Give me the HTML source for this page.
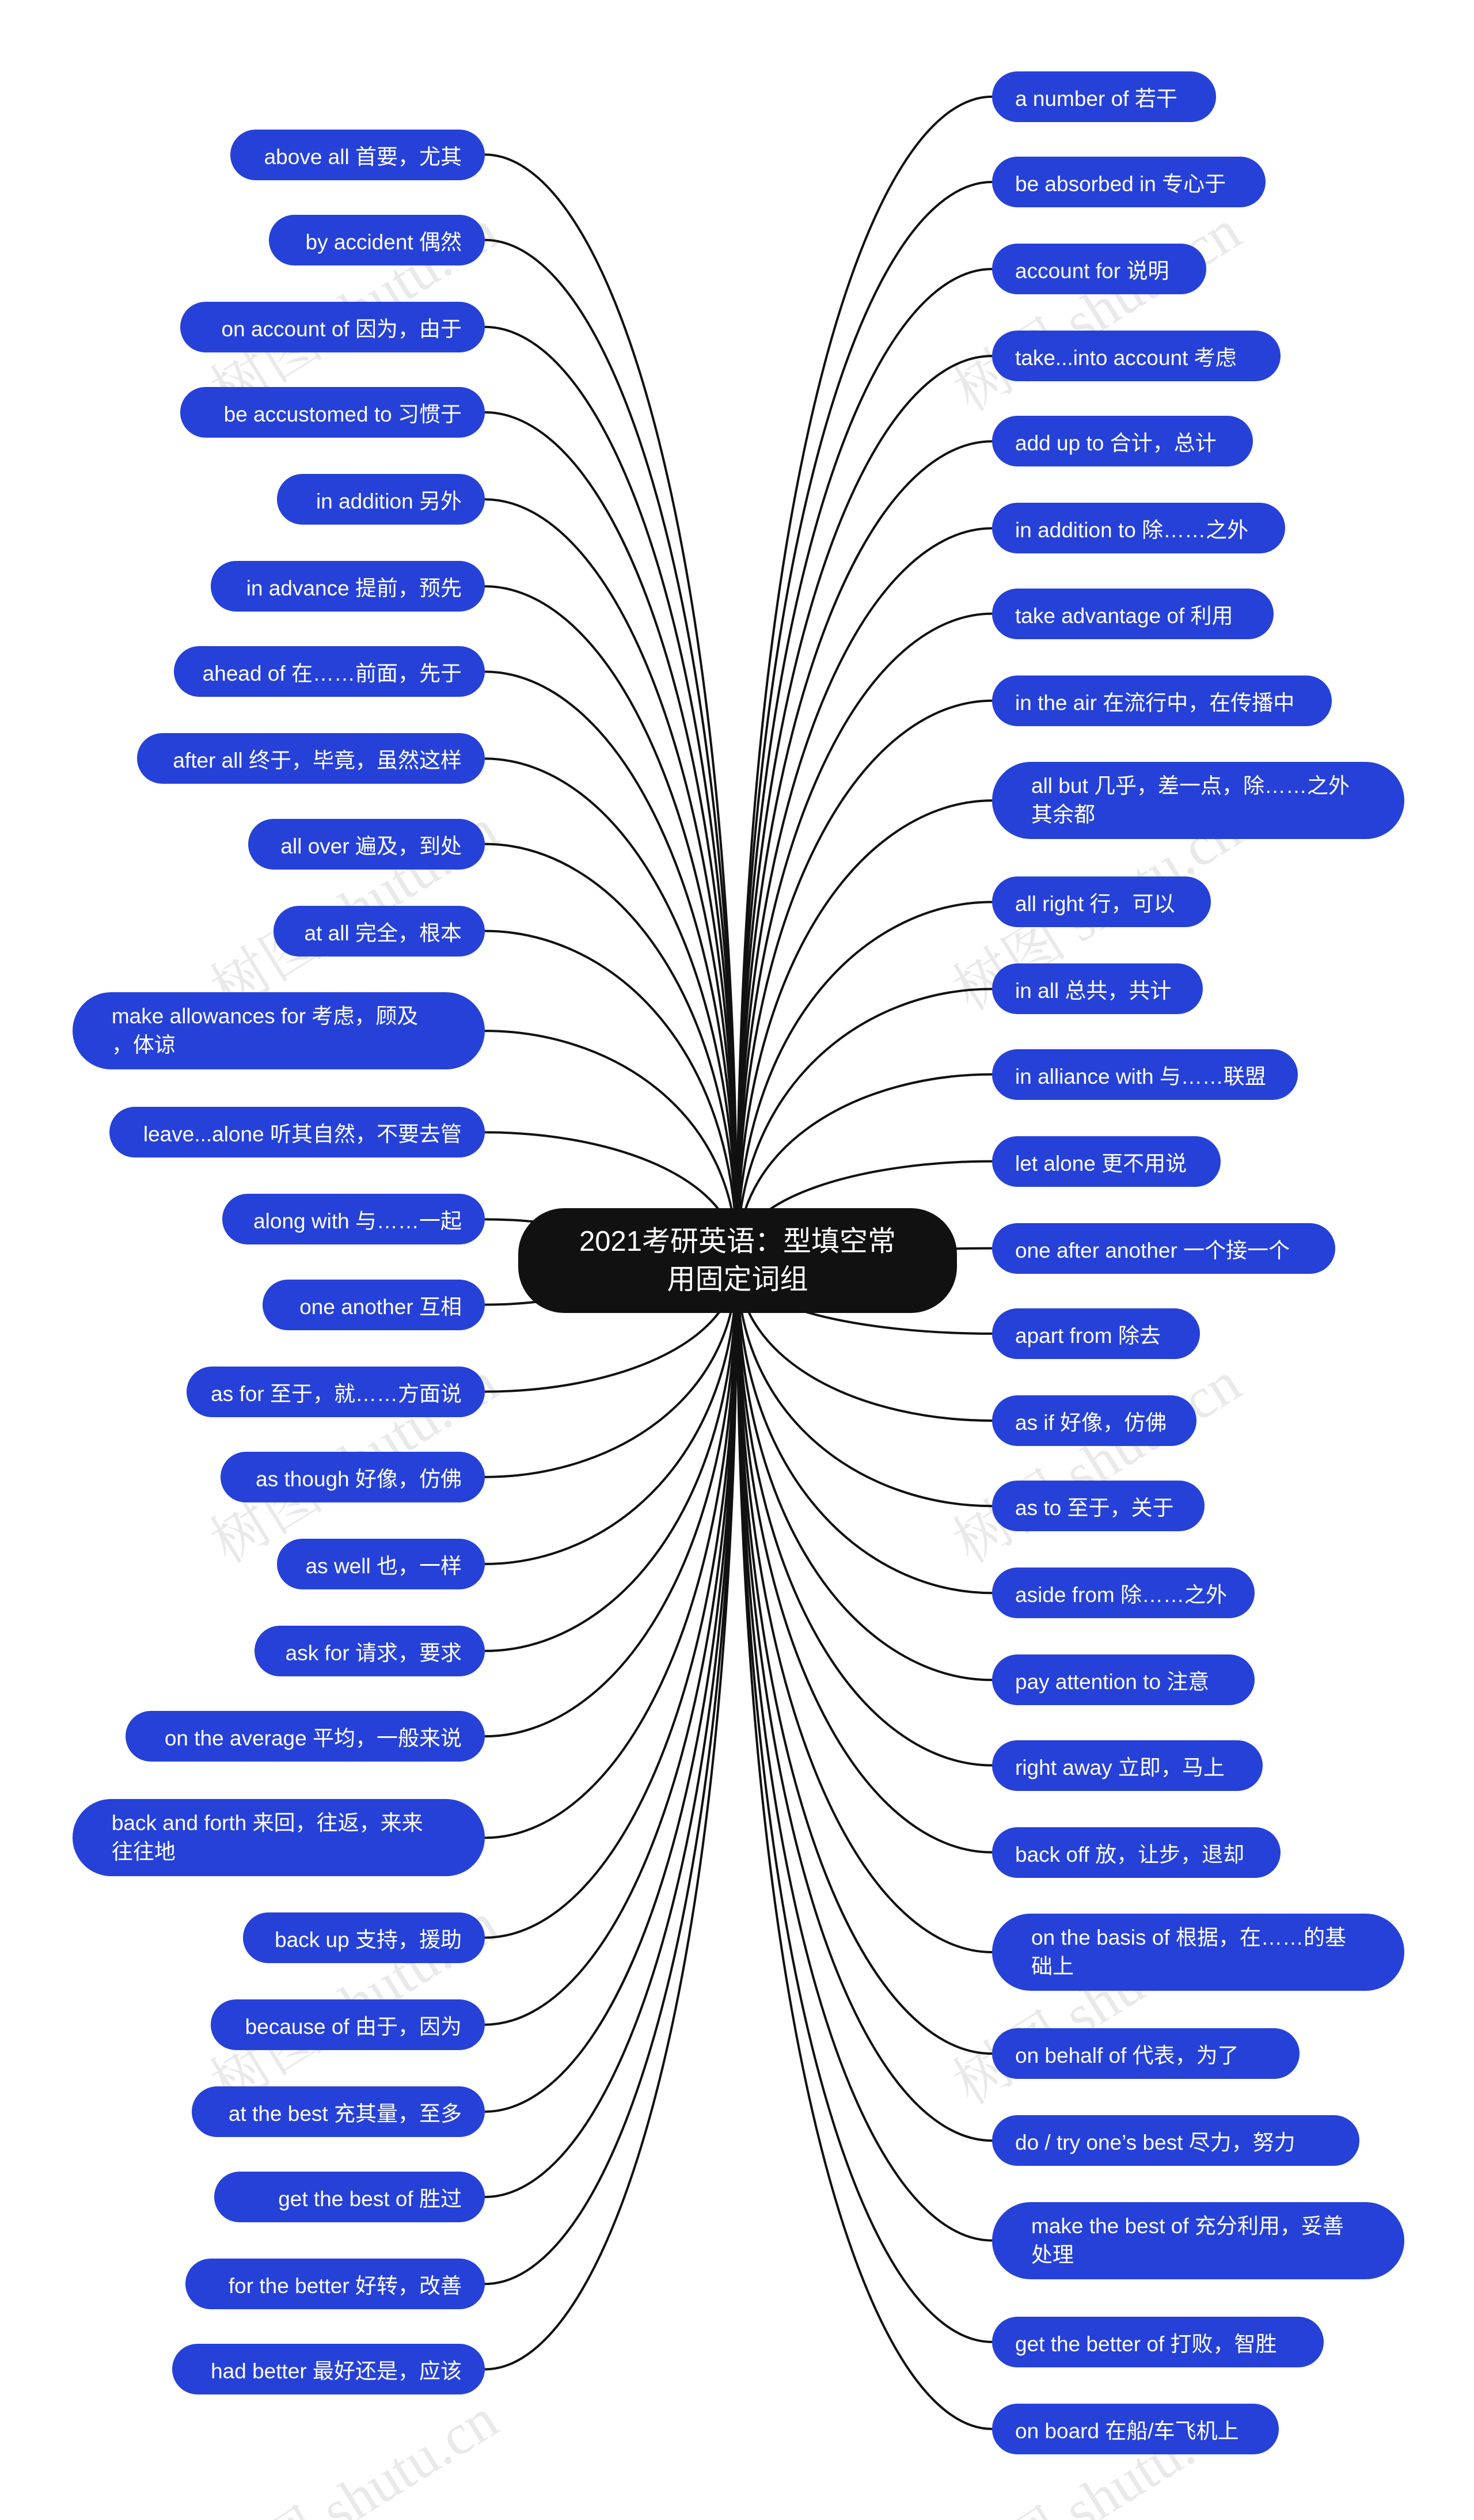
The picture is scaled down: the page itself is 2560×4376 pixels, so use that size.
<!DOCTYPE html>
<html><head><meta charset="utf-8">
<style>
html,body{margin:0;padding:0;background:#fff;}
#root{position:relative;width:2560px;height:4376px;overflow:hidden;background:#fff;}
.n{position:absolute;background:#2641d8;color:#fff;border-radius:46px;box-sizing:border-box;font-family:"Liberation Sans","Noto Sans CJK SC",sans-serif;font-size:37px;white-space:nowrap;display:flex;align-items:center;}
.nl{justify-content:flex-end;padding-right:40px;}
.nr{justify-content:flex-start;padding-left:40px;}
.n2{justify-content:flex-start;padding-left:68px;padding-right:0;white-space:normal;line-height:50px;border-radius:67px;}
.c{position:absolute;left:900px;top:2098px;width:762px;height:182px;background:#111;border-radius:80px;color:#fff;font-family:"Liberation Sans","Noto Sans CJK SC",sans-serif;font-size:49px;line-height:66px;text-align:center;display:flex;align-items:center;justify-content:center;}
.w{position:absolute;color:rgba(200,200,200,0.4);font-family:"Liberation Serif","Noto Serif CJK SC",serif;font-size:100px;transform:rotate(-32deg);white-space:nowrap;}
svg{position:absolute;left:0;top:0;}
</style></head><body><div id="root">
</div>
<script>
var S=2.797;
var L=[["above all 首要，尤其",96,143],["by accident 偶然",149,167],["on account of 因为，由于",203,112],["be accustomed to 习惯于",256,112],["in addition 另外",310,172],["in advance 提前，预先",364,131],["ahead of 在……前面，先于",417,108],["after all 终于，毕竟，虽然这样",471,85],["all over 遍及，到处",524,154],["at all 完全，根本",578,170],["make allowances for 考虑，顾及<br>，体谅",640,45,1],["leave...alone 听其自然，不要去管",703,68],["along with 与……一起",757,138],["one another 互相",810,163],["as for 至于，就……方面说",864,116],["as though 好像，仿佛",917,137],["as well 也，一样",971,172],["ask for 请求，要求",1025,158],["on the average 平均，一般来说",1078,78],["back and forth 来回，往返，来来<br>往往地",1141,45,1],["back up 支持，援助",1203,151],["because of 由于，因为",1257,131],["at the best 充其量，至多",1311,119],["get the best of 胜过",1364,133],["for the better 好转，改善",1418,115],["had better 最好还是，应该",1471,107]];
var R=[["a number of 若干",60,755],["be absorbed in 专心于",113,786],["account for 说明",167,749],["take...into account 考虑",221,795],["add up to 合计，总计",274,778],["in addition to 除……之外",328,798],["take advantage of 利用",381,791],["in the air 在流行中，在传播中",435,827],["all but 几乎，差一点，除……之外<br>其余都",497,872,1],["all right 行，可以",560,752],["in all 总共，共计",614,747],["in alliance with 与……联盟",667,806],["let alone 更不用说",721,758],["one after another 一个接一个",775,829],["apart from 除去",828,745],["as if 好像，仿佛",882,743],["as to 至于，关于",935,748],["aside from 除……之外",989,779],["pay attention to 注意",1043,779],["right away 立即，马上",1096,784],["back off 放，让步，退却",1150,795],["on the basis of 根据，在……的基<br>础上",1212,872,1],["on behalf of 代表，为了",1275,807],["do / try one’s best 尽力，努力",1329,844],["make the best of 充分利用，妥善<br>处理",1391,872,1],["get the better of 打败，智胜",1454,822],["on board 在船/车飞机上",1508,794]];
var root=document.getElementById('root'),paths='';
[[330,560],[1620,560],[330,1600],[1620,1600],[330,2560],[1620,2560],[330,3500],[1620,3500],[330,4360],[1620,4360]].forEach(function(p){var w=document.createElement('div');w.className='w';w.style.left=p[0]+'px';w.style.top=(p[1]-100)+'px';w.textContent='树图 shutu.cn';root.appendChild(w);});
var svg=document.createElementNS('http://www.w3.org/2000/svg','svg');svg.setAttribute('width','2560');svg.setAttribute('height','4376');root.appendChild(svg);
var CX=1280,CY=2189;
function node(t,cy,x,w,two,side){var d=document.createElement('div');d.className='n '+(side<0?'nr':'nl')+(two?' n2':'');var h=two?134:88;
d.style.left=x+'px';d.style.top=(cy-h/2)+'px';d.style.width=w+'px';d.style.height=h+'px';d.innerHTML=t;root.appendChild(d);}
function curve(x0,y0,side){var dy=CY-y0;
var c1x=x0+side*(Math.abs(CX-x0)*0.5);
if(Math.abs(dy)<120){return 'M'+x0+' '+y0+' C'+(x0+(CX-x0)*0.5)+' '+y0+' '+(x0+(CX-x0)*0.6)+' '+CY+' '+CX+' '+CY;}
return 'M'+x0+' '+y0+' C'+c1x+' '+y0+' '+CX+' '+(y0+dy*0.35)+' '+CX+' '+CY;}
L.forEach(function(a){var cy=a[1]*S,xl=a[2]*S,xr=842;node(a[0],cy,xl,xr-xl,a[3],1);paths+='<path d="'+curve(xr,cy,1)+'"/>';});
R.forEach(function(a){var cy=a[1]*S,xl=1723,xr=a[2]*S;node(a[0],cy,xl,xr-xl,a[3],-1);paths+='<path d="'+curve(xl,cy,-1)+'"/>';});
svg.innerHTML='<g fill="none" stroke="#111" stroke-width="4">'+paths+'</g>';
var c=document.createElement('div');c.className='c';c.innerHTML='2021考研英语：型填空常<br>用固定词组';root.appendChild(c);
</script>
</body></html>
